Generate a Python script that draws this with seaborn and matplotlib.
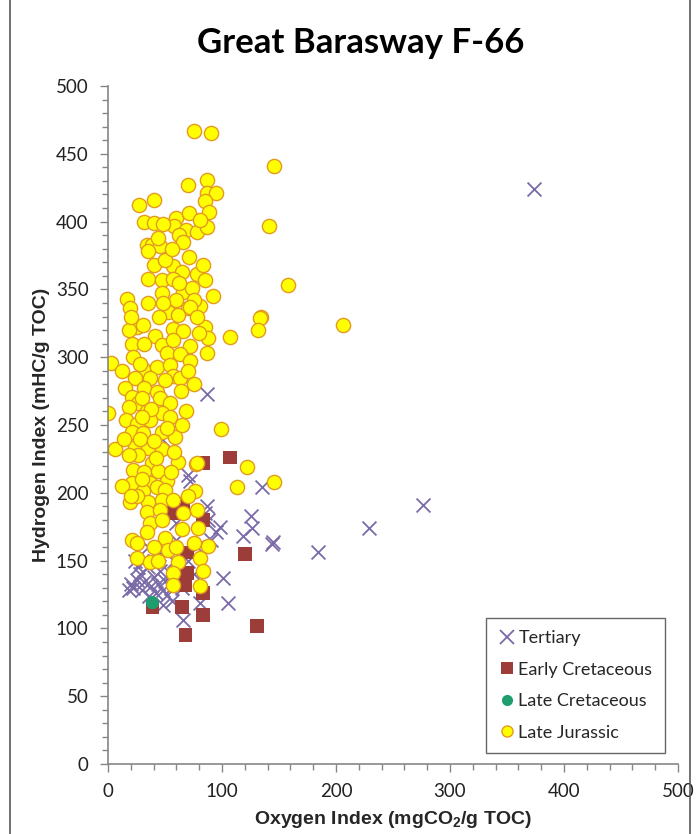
import numpy as np
import pandas as pd
import seaborn as sns
import matplotlib.pyplot as plt
from matplotlib.ticker import MultipleLocator
from matplotlib.lines import Line2D

# Tertiary (x = Oxygen Index, y = Hydrogen Index)
ter_x = [374, 87, 135, 276, 229, 184, 145, 144, 87, 125, 126, 118, 98, 95, 72, 101, 105, 66, 70, 47,
         81, 58, 60, 20, 22, 25, 28, 30, 32, 35, 38, 40, 42, 44, 46, 48, 50, 52, 55, 36, 26, 18, 30,
         40, 45, 55, 62, 65, 70, 75, 78, 90, 85, 88, 60, 53, 24, 35, 48, 56]
ter_y = [424, 273, 204, 191, 174, 156, 164, 162, 190, 183, 174, 168, 175, 171, 209, 137, 119, 106, 213, 240,
         119, 150, 165, 133, 130, 136, 140, 128, 134, 145, 131, 138, 126, 133, 142, 128, 135, 125, 140, 124, 145, 128, 150,
         150, 155, 130, 138, 130, 150, 140, 160, 165, 185, 180, 178, 160, 150, 160, 117, 120]

# Early Cretaceous
ecr_x = [83, 107, 66, 56, 83, 69, 120, 69, 68, 83, 65, 39, 83, 131, 68]
ecr_y = [222, 226, 192, 185, 180, 156, 155, 141, 132, 126, 116, 116, 110, 102, 95]

# Late Cretaceous
lcr_x = [39]
lcr_y = [119]

# Late Jurassic
jur_x = [75, 90, 146, 70, 87, 87, 95, 85, 89, 141, 27, 40, 32, 40, 60, 71, 58, 68, 78, 87, 81,
         158, 134, 206, 133, 132, 107, 99, 122, 113, 146, 77,
         34, 39, 46, 35, 71, 40, 57, 65, 78, 85, 35, 47, 57, 47, 66, 74, 35, 17, 19, 52, 60, 70, 81, 75,
         53, 61, 72, 25, 31, 41, 57, 66, 85, 88,
         21, 32, 47, 57, 72, 52, 63, 87, 3, 12, 72, 31, 43, 54, 57, 24, 37, 50, 63, 75, 15, 32, 43, 21,
         46, 54, 26, 18, 0, 34, 47, 16, 25, 37, 54, 21, 31, 47, 59, 6, 24, 35, 47, 26, 39, 61, 78, 22,
         32, 44, 21, 37, 52, 76, 31, 43, 50, 19, 35, 47, 57, 34, 46, 78, 37, 47, 65, 79, 34, 50, 21, 25,
         75, 88, 53, 25, 37, 61, 81, 57, 83, 57, 81,
         22, 28, 18, 20, 45, 48, 62, 50, 44, 62, 66, 30, 38, 28, 40, 52, 14, 18, 30, 42, 55, 12, 25, 58,
         65, 68, 64, 70, 80, 78, 92, 83, 56, 48, 30, 20, 40, 44, 60, 66, 70]
jur_y = [467, 465, 441, 427, 431, 421, 421, 415, 407, 397, 412, 416, 400, 399, 403, 406, 397, 394, 392, 396, 401,
         353, 330, 324, 329, 320, 315, 247, 219, 204, 208, 221,
         383, 383, 382, 378, 374, 368, 367, 363, 361, 357, 358, 357, 358, 347, 348, 351, 340, 343, 336, 335, 342, 336, 338, 342,
         333, 331, 337, 322, 324, 316, 321, 319, 322, 314,
         310, 310, 309, 313, 308, 303, 302, 303, 296, 290, 297, 291, 293, 294, 286, 285, 285, 283, 285, 280, 277, 277, 274, 271,
         270, 266, 266, 263, 259, 260, 259, 254, 251, 254, 256, 245, 244, 245, 241, 232, 234, 233, 232, 228, 222, 223, 222, 217,
         215, 216, 207, 207, 209, 201, 201, 204, 202, 193, 193, 195, 195, 186, 187, 187, 178, 180, 173, 174, 171, 167, 165, 163,
         163, 161, 158, 152, 149, 149, 152, 141, 142, 132, 131,
         300, 295, 320, 330, 330, 340, 355, 372, 388, 390, 385, 270, 262, 240, 238, 248, 240, 228, 210, 226, 215, 205, 198, 230,
         250, 260, 275, 290, 318, 330, 345, 368, 380, 398, 256, 198, 160, 150, 160, 185, 198]

ter = pd.DataFrame({'oi': ter_x, 'hi': ter_y})
ecr = pd.DataFrame({'oi': ecr_x, 'hi': ecr_y})
lcr = pd.DataFrame({'oi': lcr_x, 'hi': lcr_y})
jur = pd.DataFrame({'oi': jur_x, 'hi': jur_y})

sns.set_style('white')
plt.rcParams['font.family'] = ['Lato', 'DejaVu Sans']
plt.rcParams['mathtext.fontset'] = 'custom'
plt.rcParams['mathtext.rm'] = 'Liberation Sans:bold'
plt.rcParams['mathtext.it'] = 'Liberation Sans:bold'
plt.rcParams['mathtext.bf'] = 'Liberation Sans:bold'

fig = plt.figure(figsize=(6.97, 8.34), dpi=100)
ax = fig.add_axes([108 / 697, 70 / 834, 570 / 697, 678 / 834])

c_ter = '#7B6AA8'
c_ecr = '#9C3D3A'
c_lcr = '#1E9E6E'
c_jur = '#FFFF00'

sns.scatterplot(data=ter, x='oi', y='hi', marker='x', s=100, color=c_ter, linewidth=1.3, ax=ax, label='Tertiary')
sns.scatterplot(data=ecr, x='oi', y='hi', marker='s', s=100, color=c_ecr, edgecolor='none', ax=ax, label='Early Cretaceous')
sns.scatterplot(data=lcr, x='oi', y='hi', marker='o', s=90, color=c_lcr, edgecolor='none', ax=ax, label='Late Cretaceous')
sns.scatterplot(data=jur, x='oi', y='hi', marker='o', s=105, color=c_jur, edgecolor='#E39A1E', linewidth=1.0, ax=ax, label='Late Jurassic')

ax.set_xlim(0, 500)
ax.set_ylim(0, 500)
ax.xaxis.set_major_locator(MultipleLocator(100))
ax.xaxis.set_minor_locator(MultipleLocator(20))
ax.yaxis.set_major_locator(MultipleLocator(50))
ax.yaxis.set_minor_locator(MultipleLocator(10))
ax.tick_params(which='both', direction='out', color='#868686', labelsize=13.5, labelcolor='#222222')
ax.tick_params(which='major', length=6, width=1, bottom=True, left=True, pad=8)
ax.tick_params(which='minor', length=4, width=1, bottom=True, left=True)

sns.despine(ax=ax)
for side in ['left', 'bottom']:
    ax.spines[side].set_color('#868686')
    ax.spines[side].set_linewidth(1.2)

ax.set_xlabel(r'Oxygen Index (mgCO$_2$/g TOC)', fontsize=14, fontweight='bold',
              family='Liberation Sans', labelpad=6)
ax.set_ylabel('Hydrogen Index (mHC/g TOC)', fontsize=14, fontweight='bold',
              family='Liberation Sans', labelpad=4)
fig.text(0.517, 0.949, 'Great Barasway F-66', ha='center', va='center', fontsize=25,
         fontweight='bold', color='black')

handles = [
    Line2D([], [], marker='x', color=c_ter, linestyle='none', markersize=10, markeredgewidth=1.3),
    Line2D([], [], marker='s', color=c_ecr, linestyle='none', markersize=9, markeredgewidth=0),
    Line2D([], [], marker='o', color=c_lcr, linestyle='none', markersize=8, markeredgewidth=0),
    Line2D([], [], marker='o', markerfacecolor=c_jur, markeredgecolor='#E39A1E', linestyle='none', markersize=8),
]
labels = ['Tertiary', 'Early Cretaceous', 'Late Cretaceous', 'Late Jurassic']
leg = ax.legend(handles, labels, loc='lower right', bbox_to_anchor=(0.977, 0.016), fontsize=13,
                frameon=True, fancybox=False, edgecolor='#404040', handletextpad=0.1,
                handlelength=1.0, labelspacing=0.85, borderpad=0.7, borderaxespad=0)
leg.get_frame().set_linewidth(1.0)

# outer chart border
fig.add_artist(Line2D([10 / 697, 10 / 697], [0, 1], color='#595959', linewidth=1.2))
fig.add_artist(Line2D([690 / 697, 690 / 697], [0, 1], color='#595959', linewidth=1.2))

fig.savefig('out.png', dpi=100)
